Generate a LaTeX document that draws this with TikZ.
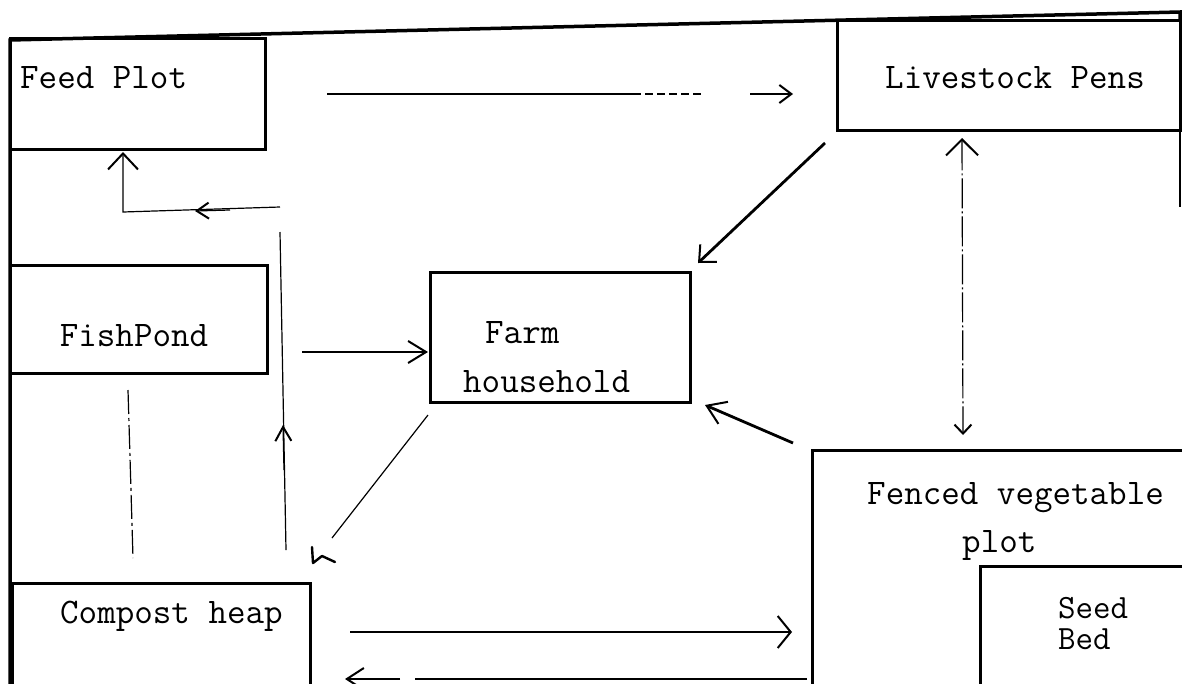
\documentclass[tikz,border=0pt]{standalone}
\usepackage{fontspec}
\usetikzlibrary{arrows.meta}
\begin{document}
\begin{tikzpicture}[x=1pt,y=-1pt,
  box/.style={draw,line width=3pt,rectangle,inner sep=0pt,outer sep=0pt,anchor=north west},
  lbl/.style={font=\fontsize{36}{40}\selectfont\ttfamily,inner sep=0pt,anchor=base west},
  fine/.style={line width=1.2pt},
  heavy/.style={line width=2.8pt},
  dashdot/.style={line width=1.2pt,dash pattern=on 24pt off 4pt on 3pt off 4pt},
  bar/.style args={#1/#2}{-{Straight Barb[length=#1pt,width=#2pt,line width=2pt]}},
]
\useasboundingbox (0,0) rectangle (1182,683);
\clip (0,0) rectangle (1182,683);

% boxes
\node[box,minimum width=255pt,minimum height=111pt] (feed) at (10,38) {};
\node[box,minimum width=343pt,minimum height=110pt] (live) at (837,20) {};
\node[box,minimum width=257pt,minimum height=108pt] (fish) at (10,265) {};
\node[box,minimum width=260pt,minimum height=130pt] (farm) at (430,272) {};
\node[box,minimum width=298pt,minimum height=120pt] (comp) at (12,583) {};
\node[box,minimum width=400pt,minimum height=250pt] (fence) at (812,450) {};
\node[box,minimum width=250pt,minimum height=140pt] (seed) at (980,566) {};

% outer frame
\draw[line width=3.5pt] (10,700) -- (10,40) -- (1180,12) -- (1180,20);
\draw[fine] (1180,130) -- (1180,207);

% labels
\node[lbl] (tfeed) at (20,88) {Feed Plot};
\node[lbl,anchor=base] (tlive) at (1015,88) {Livestock Pens};
\node[lbl,anchor=base] (tfish) at (134,346) {FishPond};
\node[lbl] (tfarma) at (485,343) {Farm};
\node[lbl] (tfarmb) at (463,392) {household};
\node[lbl] (tcomp) at (60,623) {Compost heap};
\node[lbl] (tfena) at (867,504) {Fenced vegetable};
\node[lbl] (tfenb) at (962,552) {plot};
\node[lbl,font=\fontsize{34}{31}\selectfont\ttfamily,align=left,anchor=north west] (tseed) at (1058,597) {Seed\\Bed};

% coordinates for free ends
\coordinate (fl1) at (327,94);
\coordinate (fl2) at (633,94);
\coordinate (fl3) at (702,94);
\coordinate (fl4) at (750,94);
\coordinate (fl5) at (793,94);
\coordinate (lf1) at (825,143);
\coordinate (lf2) at (698,263);
\coordinate (pf1) at (302,352);
\coordinate (pf2) at (428,352);
\coordinate (fc1) at (428,415);
\coordinate (fc2) at (332,538);
\coordinate (vf1) at (793,443);
\coordinate (vf2) at (705,405);
\coordinate (lv1) at (962,138);
\coordinate (lv2) at (963,435);
\coordinate (pc1) at (128,390);
\coordinate (pc2) at (133,558);
\coordinate (cf1) at (286,550);
\coordinate (cf2) at (280,232);
\coordinate (cf3) at (280,207);
\coordinate (cf4) at (123,212);
\coordinate (cf5) at (123,152);
\coordinate (cv1) at (350,632);
\coordinate (cv2) at (792,632);
\coordinate (vc1) at (807,679);
\coordinate (vc2) at (415,679);
\coordinate (vc3) at (400,679);
\coordinate (vc4) at (345,679);

% Feed Plot -> Livestock Pens
\draw[fine] (fl1) -- (fl2);
\draw[fine,dash pattern=on 8pt off 4pt] (fl2) -- (fl3);
\draw[fine,bar=12/18] (fl4) -- (fl5);

% Livestock Pens -> Farm household
\draw[heavy,bar=13/24] (lf1) -- (lf2);

% FishPond -> Farm household
\draw[heavy,bar=18/22] (pf1) -- (pf2);

% Farm household -> Compost heap
\draw[fine] (fc1) -- (fc2);
\draw[line width=2.4pt,line cap=round,line join=round] (312,547) -- (313,563) -- (322,556) -- (335,562);

% Fenced vegetable plot -> Farm household
\draw[heavy,bar=18/24] (vf1) -- (vf2);

% Livestock Pens <-> Fenced vegetable plot
\draw[fine,dash pattern=on 30pt off 3pt on 2pt off 3pt,
  {Straight Barb[length=16pt,width=32pt,line width=2pt]}-{Straight Barb[length=9pt,width=17pt,line width=2pt]}] (lv1) -- (lv2);

% FishPond -- Compost heap
\draw[dashdot] (pc1) -- (pc2);

% Compost heap -> Feed Plot
\draw[fine] (cf1) -- (cf2);
\draw[fine,bar=16/30] (cf3) -- (cf4) -- (cf5);
\draw[fine,bar=14/16] (284,470) -- (283,425);
\draw[fine,bar=12/16] (230,210) -- (195,211);

% Compost heap <-> Fenced vegetable plot
\draw[fine,bar=13/32] (cv1) -- (cv2);
\draw[fine] (vc1) -- (vc2);
\draw[fine,bar=17/22] (vc3) -- (vc4);
\end{tikzpicture}
\end{document}
